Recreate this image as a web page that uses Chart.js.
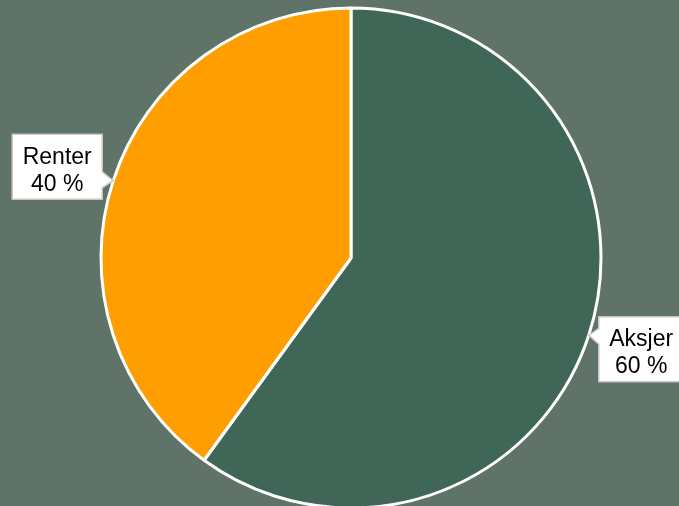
<!DOCTYPE html>
<html>
<head>
<meta charset="utf-8">
<script src="https://cdn.jsdelivr.net/npm/chart.js@4/dist/chart.umd.min.js"></script>
<style>
  html, body { margin: 0; padding: 0; background: #5F7369; overflow: hidden; }
  #wrap { width: 679px; height: 506px; }
</style>
</head>
<body>
<div id="wrap"><canvas id="pie" width="679" height="506"></canvas></div>
<script>
// Fordeling aksjer / renter
const labels = ['Aksjer', 'Renter'];
const shares = [60, 40];
const colors = ['#406658', '#FF9E00'];

const BG = '#5F7369';

// callout boxes at the middle of each slice
const calloutPlugin = {
  id: 'callouts',
  afterDatasetsDraw(chart) {
    const ctx = chart.ctx;
    const meta = chart.getDatasetMeta(0);
    ctx.save();
    ctx.font = '23px "Liberation Sans", Arial, sans-serif';
    ctx.textAlign = 'center';
    ctx.textBaseline = 'alphabetic';
    meta.data.forEach((arc, i) => {
      const mid = (arc.startAngle + arc.endAngle) / 2;
      const dx = Math.cos(mid), dy = Math.sin(mid);
      const tipX = arc.x + dx * arc.outerRadius;
      const tipY = arc.y + dy * arc.outerRadius;
      const lines = [labels[i], shares[i] + ' %'];
      const w = Math.max(...lines.map(l => ctx.measureText(l).width)) + 21;
      const h = 65;
      const sx = dx < 0 ? -1 : 1;
      const sy = dy < 0 ? -1 : 1;
      const x0 = sx > 0 ? tipX + 10 : tipX - 11 - w;
      const cy = tipY + 14 * sy;
      const y0 = cy - h / 2;
      const edgeX = sx > 0 ? x0 : x0 + w;
      // box + pointer
      ctx.beginPath();
      ctx.moveTo(x0, y0);
      if (sx > 0) {
        ctx.lineTo(x0 + w, y0);
        ctx.lineTo(x0 + w, y0 + h);
        ctx.lineTo(x0, y0 + h);
        ctx.lineTo(x0, tipY + 9);
        ctx.lineTo(tipX, tipY);
        ctx.lineTo(x0, tipY - 7);
      } else {
        ctx.lineTo(x0 + w, y0);
        ctx.lineTo(x0 + w, tipY - 9);
        ctx.lineTo(tipX, tipY);
        ctx.lineTo(x0 + w, tipY + 7);
        ctx.lineTo(x0 + w, y0 + h);
        ctx.lineTo(x0, y0 + h);
      }
      ctx.closePath();
      ctx.fillStyle = '#ffffff';
      ctx.fill();
      ctx.strokeStyle = '#c8c8c8';
      ctx.lineWidth = 1.5;
      ctx.stroke();
      ctx.fillStyle = '#000000';
      const tx = x0 + w / 2;
      ctx.fillText(lines[0], tx, cy - 3);
      ctx.fillText(lines[1], tx, cy + 24);
    });
    ctx.restore();
  }
};

new Chart(document.getElementById('pie'), {
  type: 'pie',
  data: {
    labels: labels,
    datasets: [{
      data: shares,
      backgroundColor: colors,
      borderColor: '#ffffff',
      borderWidth: 3,
    }],
  },
  options: {
    responsive: false,
    animation: false,
    radius: 250,
    layout: { padding: { left: 23, right: 0, top: 10, bottom: 0 } },
    plugins: {
      legend: { display: false },
      tooltip: { enabled: false },
    },
  },
  plugins: [calloutPlugin],
});
</script>
</body>
</html>
